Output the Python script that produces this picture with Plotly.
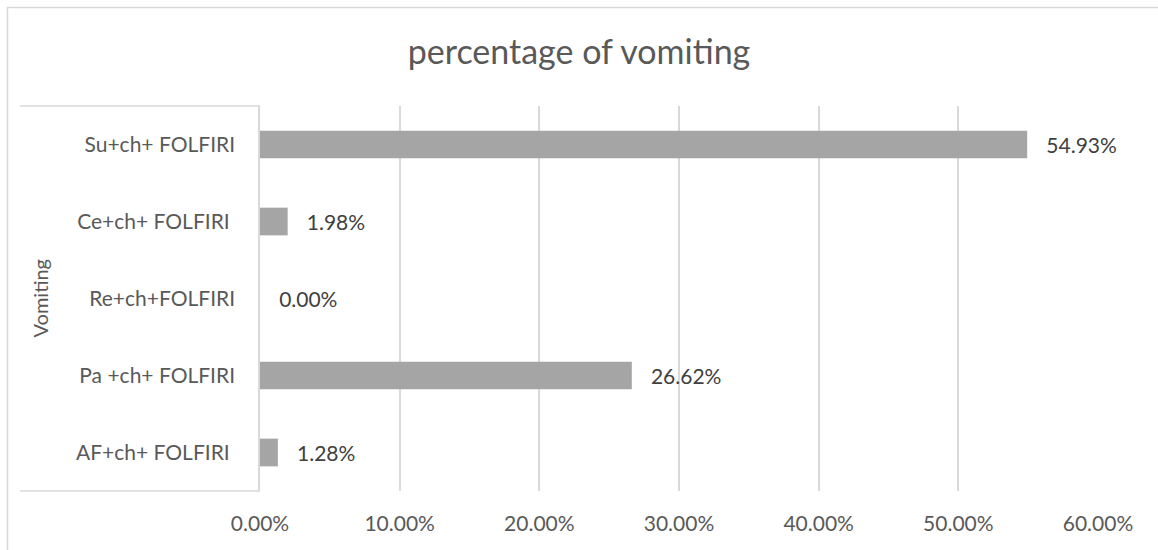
import plotly.graph_objects as go

categories = ["AF+ch+ FOLFIRI\u00a0", "Pa +ch+ FOLFIRI", "Re+ch+FOLFIRI", "Ce+ch+ FOLFIRI\u00a0", "Su+ch+ FOLFIRI"]
values = [0.0128, 0.2662, 0.0000, 0.0198, 0.5493]
x_ticks = [0, 0.1, 0.2, 0.3, 0.4, 0.5, 0.6]
title_text = "percentage of vomiting"
group_label = "Vomiting"

W, H = 1158, 550
L, R, T, B = 260, 60, 106, 59
pw, ph = W - L - R, H - T - B

def px_x(p):
    return (p - L) / pw

def px_y(p):
    return (H - B - p) / ph

grid = "#d9d9d9"
font = "Lato"

fig = go.Figure()
fig.add_trace(go.Bar(
    y=categories, x=values, orientation="h",
    marker=dict(color="#a5a5a5", line=dict(width=0)),
    texttemplate="\u00a0\u00a0\u00a0%{x:.2%}", textposition="outside",
    textfont=dict(family=font, size=21, color="#404040"),
    cliponaxis=False, hoverinfo="skip",
))

fig.update_layout(
    width=W, height=H,
    margin=dict(l=L, r=R, t=T, b=B, autoexpand=False),
    paper_bgcolor="white", plot_bgcolor="white",
    bargap=0.64, showlegend=False,
    title=dict(text=title_text, x=0.5, xref="container", xanchor="center",
               y=1 - 52 / H, yanchor="middle", yref="container",
               font=dict(family=font, size=34, color="#595959")),
    xaxis=dict(range=[0, 0.6], tickvals=x_ticks, tickformat=".2%",
               showgrid=True, gridcolor=grid, gridwidth=1.5, zeroline=False,
               showline=False, ticks="", ticklabelstandoff=18,
               tickfont=dict(family=font, size=21, color="#595959")),
    yaxis=dict(type="category", categoryorder="array", categoryarray=categories,
               showgrid=False, zeroline=False, showline=True, linecolor=grid,
               linewidth=1.5, ticks="", ticklabelstandoff=19,
               tickfont=dict(family=font, size=21, color="#595959")),
)

shapes = [
    dict(type="line", xref="paper", yref="paper", x0=px_x(20), x1=0, y0=1, y1=1,
         line=dict(color=grid, width=1.5)),
    dict(type="line", xref="paper", yref="paper", x0=px_x(20), x1=0, y0=0, y1=0,
         line=dict(color=grid, width=1.5)),
    dict(type="rect", xref="paper", yref="paper", x0=px_x(7.5), x1=px_x(1200),
         y0=px_y(600), y1=px_y(7.5), line=dict(color=grid, width=1.5),
         fillcolor="rgba(0,0,0,0)", layer="below"),
]
fig.update_layout(shapes=shapes)

fig.add_annotation(text=group_label, xref="paper", yref="paper",
                   x=px_x(39), y=0.5, textangle=-90, showarrow=False,
                   xanchor="center", yanchor="middle",
                   font=dict(family=font, size=20, color="#595959"))

fig.write_html("out.html")
